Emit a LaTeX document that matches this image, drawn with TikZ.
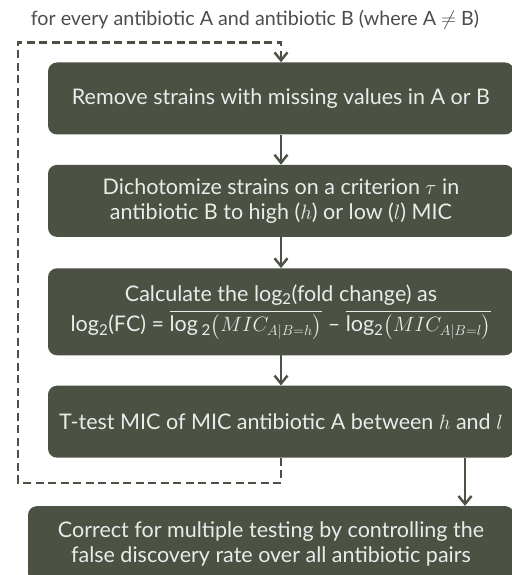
\documentclass[tikz,border=0pt]{standalone}
\usepackage{amsmath}
\usepackage{fontspec}
\setmainfont{Lato}
\usetikzlibrary{arrows.meta, positioning, calc}
\definecolor{olive}{HTML}{4B5143}
\definecolor{captiongrey}{HTML}{4D4D4D}
\newcommand{\boxwidth}{466pt}
\newcommand{\boxheight}{72pt}
\tikzstyle{stepbox} = [% process box
  rectangle,
  rounded corners=9pt,
  minimum width=\boxwidth,
  minimum height=\boxheight,
  text centered,
  align=center,
  fill=olive,
  text=white!92!black,
  font=\fontsize{21.5}{25}\selectfont
  ]
\tikzstyle{arrow} = [% arrow format
  line width=2pt,
  draw=olive,
  -{Straight Barb[length=8pt,width=13pt,line width=2.4pt]}
  ]
\tikzstyle{loopline} = [% dashed loop
  line width=2.6pt,
  draw=olive,
  dash pattern=on 8pt off 4.5pt,
  -{Straight Barb[length=8pt,width=13pt,line width=2.4pt]}
  ]

\begin{document}
\begin{tikzpicture}[x=1pt, y=1pt, node distance=30pt]
\useasboundingbox (0,0) rectangle (511,575);

%%% Nodes
\node[font=\fontsize{19.7}{23}\selectfont, text=captiongrey] (caption) at (255,555)
  {for every antibiotic A and antibiotic B (where A $\neq$ B)};
\node[stepbox] (remove) at (281,476.5) {Remove strains with missing values in A or B};
\node[stepbox] (dichotomize) [below=of remove]
  {Dichotomize strains on a criterion $\tau$ in\\ antibiotic B to high ($h$) or low ($l$) MIC};
\node[stepbox, minimum height=87pt] (calculate) [below=31pt of dichotomize]
  {Calculate the log\textsubscript{2}(fold change) as\\[4pt]
   log\textsubscript{2}(FC) = $\overline{\text{log\,\textsubscript{2}}\bigl(MIC_{A|B=h}\bigr)}$
   -- $\overline{\text{log\textsubscript{2}}\bigl(MIC_{A|B=l}\bigr)}$};
\node[stepbox] (ttest) [below=of calculate]
  {T-test MIC of MIC antibiotic A between $h$ and $l$};
\node[stepbox, minimum width=486pt, minimum height=76pt] (correct) [below=48pt of ttest, xshift=-10pt]
  {Correct for multiple testing by controlling the\\ false discovery rate over all antibiotic pairs};

%%% Arrows
\draw[arrow] (remove) -- (dichotomize);
\draw[arrow] (dichotomize) -- (calculate);
\draw[arrow] (calculate) -- (ttest);
\draw[arrow] ([xshift=184pt]ttest.south) -- ([xshift=184pt]ttest.south |- correct.north);
\draw[loopline] (ttest.south) -- ++(0,-25) -- ++(-263,0) |- ($(remove.north)+(0,20)$) -- (remove.north);

\end{tikzpicture}
\end{document}
